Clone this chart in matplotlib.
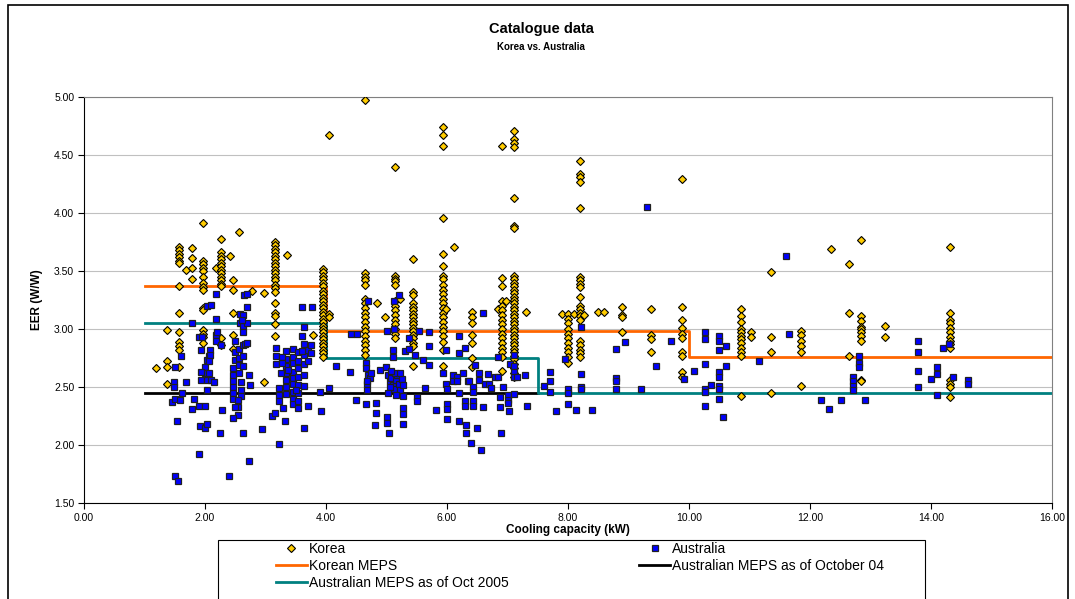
import matplotlib.pyplot as plt
from matplotlib.patches import Rectangle

plt.rcParams['font.family'] = ['Liberation Sans', 'DejaVu Sans']

# Catalogue data: cooling capacity (kW) and EER (W/W)
korea_cap = [
    1.19,
    1.38, 1.38, 1.38, 1.38,
    1.57, 1.57, 1.57, 1.57, 1.57, 1.57, 1.57, 1.57, 1.57, 1.57, 1.57, 1.57, 1.57,
    1.68,
    1.78, 1.78, 1.78, 1.78,
    1.97, 1.97, 1.97, 1.97, 1.97, 1.97, 1.97, 1.97, 1.97, 1.97, 1.97, 1.97, 1.97, 1.97, 1.97,
    2.18,
    2.26, 2.26, 2.26, 2.26, 2.26, 2.26, 2.26, 2.26, 2.26, 2.26, 2.26, 2.26, 2.26, 2.26,
    2.41,
    2.47, 2.47, 2.47, 2.47, 2.47,
    2.57, 2.77, 2.98, 2.98,
    3.16, 3.16, 3.16, 3.16, 3.16, 3.16, 3.16, 3.16, 3.16, 3.16, 3.16, 3.16, 3.16, 3.16, 3.16,
    3.16, 3.16, 3.16, 3.16, 3.16,
    3.36, 3.78,
    3.95, 3.95, 3.95, 3.95, 3.95, 3.95, 3.95, 3.95, 3.95, 3.95, 3.95, 3.95, 3.95, 3.95, 3.95,
    3.95, 3.95, 3.95, 3.95, 3.95, 3.95, 3.95, 3.95, 3.95, 3.95, 3.95,
    4.05, 4.05, 4.05,
    4.64, 4.64, 4.64, 4.64, 4.64, 4.64, 4.64, 4.64, 4.64, 4.64, 4.64, 4.64, 4.64, 4.64, 4.64,
    4.64, 4.64, 4.64,
    4.84, 4.98,
    5.14, 5.14, 5.14, 5.14, 5.14, 5.14, 5.14, 5.14, 5.14, 5.14, 5.14, 5.14, 5.14, 5.14,
    5.22,
    5.43, 5.43, 5.43, 5.43, 5.43, 5.43, 5.43, 5.43, 5.43, 5.43, 5.43, 5.43, 5.43, 5.43, 5.43,
    5.43, 5.43,
    5.93, 5.93, 5.93, 5.93, 5.93, 5.93, 5.93, 5.93, 5.93, 5.93, 5.93, 5.93, 5.93, 5.93, 5.93,
    5.93, 5.93, 5.93, 5.93, 5.93, 5.93, 5.93, 5.93,
    5.98, 6.12,
    6.42, 6.42, 6.42, 6.42, 6.42, 6.42, 6.42,
    6.85,
    6.91, 6.91, 6.91, 6.91, 6.91, 6.91, 6.91, 6.91, 6.91, 6.91, 6.91, 6.91, 6.91, 6.91, 6.91,
    6.91, 6.91,
    6.98,
    7.11, 7.11, 7.11, 7.11, 7.11, 7.11, 7.11, 7.11, 7.11, 7.11, 7.11, 7.11, 7.11, 7.11, 7.11,
    7.11, 7.11, 7.11, 7.11, 7.11, 7.11, 7.11, 7.11, 7.11, 7.11, 7.11, 7.11, 7.11, 7.11, 7.11,
    7.11, 7.11, 7.11, 7.11, 7.11, 7.11,
    7.30, 7.90,
    8.00, 8.00, 8.00, 8.00, 8.00, 8.00, 8.00, 8.00, 8.00, 8.00, 8.00,
    8.10,
    8.20, 8.20, 8.20, 8.20, 8.20, 8.20, 8.20, 8.20, 8.20, 8.20, 8.20, 8.20, 8.20, 8.20, 8.20,
    8.20, 8.20, 8.20, 8.20, 8.20,
    8.26, 8.49, 8.60,
    8.89, 8.89, 8.89, 8.89,
    9.38, 9.38, 9.38, 9.38,
    9.88, 9.88, 9.88, 9.88, 9.88, 9.88, 9.88, 9.88, 9.88, 9.88,
    10.86, 10.86, 10.86, 10.86, 10.86, 10.86, 10.86, 10.86, 10.86, 10.86, 10.86, 10.86,
    11.02, 11.02,
    11.36, 11.36, 11.36, 11.36,
    11.85, 11.85, 11.85, 11.85, 11.85, 11.85,
    12.34,
    12.64, 12.64, 12.64,
    12.84, 12.84, 12.84, 12.84, 12.84, 12.84, 12.84, 12.84, 12.84, 12.84,
    13.24, 13.24,
    14.32, 14.32, 14.32, 14.32, 14.32, 14.32, 14.32, 14.32, 14.32, 14.32, 14.32, 14.32, 14.32,
    14.32,
]
korea_eer = [
    2.66,
    2.99, 2.72, 2.67, 2.53,
    3.71, 3.68, 3.65, 3.62, 3.59, 3.57, 3.37, 3.14, 2.97, 2.89, 2.85, 2.82, 2.67,
    3.51,
    3.70, 3.61, 3.53, 3.43,
    3.91, 3.59, 3.56, 3.53, 3.50, 3.45, 3.40, 3.36, 3.34, 3.18, 3.16, 2.99, 2.96, 2.93, 2.88,
    3.53,
    3.78, 3.66, 3.63, 3.60, 3.57, 3.54, 3.51, 3.48, 3.45, 3.42, 3.39, 3.37, 2.92, 2.86,
    3.63,
    3.42, 3.34, 3.14, 2.95, 2.83,
    3.84, 3.33, 3.31, 2.54,
    3.75, 3.72, 3.69, 3.66, 3.63, 3.60, 3.57, 3.54, 3.51, 3.48, 3.45, 3.42, 3.38, 3.35, 3.32,
    3.22, 3.14, 3.11, 3.04, 2.94,
    3.64, 2.95,
    3.52, 3.49, 3.46, 3.43, 3.40, 3.37, 3.33, 3.30, 3.27, 3.24, 3.21, 3.18, 3.15, 3.12, 3.09,
    3.06, 3.03, 3.00, 2.97, 2.94, 2.91, 2.88, 2.85, 2.82, 2.79, 2.76,
    4.67, 3.13, 3.10,
    4.97, 3.48, 3.45, 3.42, 3.38, 3.26, 3.22, 3.18, 3.14, 3.10, 3.06, 3.02, 2.98, 2.94, 2.90,
    2.86, 2.82, 2.78,
    3.22, 3.10,
    4.40, 3.46, 3.43, 3.41, 3.38, 3.24, 3.20, 3.16, 3.12, 3.08, 3.04, 3.00, 2.96, 2.92,
    3.26,
    3.60, 3.32, 3.29, 3.22, 3.19, 3.16, 3.13, 3.10, 3.07, 3.04, 3.01, 2.98, 2.95, 2.92, 2.88,
    2.85, 2.68,
    4.74, 4.67, 4.58, 3.96, 3.65, 3.54, 3.46, 3.43, 3.38, 3.34, 3.30, 3.26, 3.22, 3.18, 3.14,
    3.10, 3.06, 3.02, 2.98, 2.94, 2.89, 2.82, 2.68,
    3.17, 3.71,
    3.15, 3.10, 3.05, 2.95, 2.88, 2.75, 2.67,
    3.17,
    4.58, 3.44, 3.37, 3.24, 3.20, 3.16, 3.12, 3.08, 3.04, 3.00, 2.96, 2.92, 2.88, 2.84, 2.80,
    2.76, 2.64,
    3.24,
    4.71, 4.64, 4.60, 4.57, 4.13, 3.89, 3.87, 3.46, 3.43, 3.40, 3.37, 3.34, 3.31, 3.28, 3.25,
    3.22, 3.19, 3.16, 3.13, 3.10, 3.07, 3.04, 3.01, 2.98, 2.95, 2.92, 2.89, 2.86, 2.83, 2.80,
    2.77, 2.74, 2.70, 2.66, 2.62, 2.59,
    3.15, 3.13,
    3.13, 3.09, 3.05, 3.00, 2.96, 2.92, 2.88, 2.84, 2.80, 2.76, 2.71,
    3.13,
    4.45, 4.34, 4.31, 4.27, 4.04, 3.45, 3.42, 3.39, 3.36, 3.28, 3.20, 3.17, 3.14, 3.11, 3.08,
    2.90, 2.86, 2.82, 2.79, 2.76,
    3.12, 3.15, 3.15,
    3.19, 3.12, 3.10, 2.97,
    3.17, 2.95, 2.91, 2.80,
    4.29, 3.19, 3.08, 3.01, 2.96, 2.92, 2.80, 2.77, 2.63, 2.59,
    3.17, 3.11, 3.06, 3.00, 2.97, 2.94, 2.91, 2.88, 2.84, 2.80, 2.77, 2.42,
    2.97, 2.93,
    3.49, 2.93, 2.80, 2.45,
    2.98, 2.95, 2.90, 2.85, 2.80, 2.51,
    3.69,
    3.56, 3.14, 2.77,
    3.77, 3.11, 3.07, 3.02, 3.00, 2.97, 2.94, 2.90, 2.56, 2.55,
    3.03, 2.93,
    3.71, 3.14, 3.08, 3.05, 3.01, 2.97, 2.93, 2.90, 2.87, 2.84, 2.56, 2.53, 2.50,
    2.41,
]

australia_cap = [
    1.45, 1.48, 1.49, 1.51, 1.58, 1.54, 1.50, 1.56, 1.61, 1.50, 1.69, 1.62,
    1.78, 1.82, 1.78, 1.90, 1.95, 2.19, 2.19, 1.94, 2.03, 2.07, 2.00, 2.00, 1.94, 1.94,
    2.03, 2.03, 2.06, 2.10, 2.15, 1.90, 2.00, 2.28, 1.92, 2.00, 2.04, 1.90, 2.25, 2.40,
    2.19, 2.03, 2.10, 2.18, 2.20, 2.26, 2.09, 2.09, 2.06,
    2.50, 2.50, 2.50, 2.46, 2.46, 2.46, 2.46, 2.46, 2.46, 2.57, 2.57, 2.57, 2.57,
    2.63, 2.63, 2.63, 2.66, 2.70, 2.60, 2.60, 2.60, 2.55, 2.55, 2.55, 2.46, 2.50,
    2.63, 2.73, 2.58, 2.58, 2.63, 2.63, 2.63, 2.65, 2.70, 2.70, 2.70, 2.61, 2.94,
    2.72, 2.75,
    3.17, 3.17, 3.17, 3.23, 3.23, 3.23, 3.10, 3.16, 3.23, 3.32, 3.29,
    3.34, 3.34, 3.34, 3.34, 3.34, 3.34, 3.34,
    3.45, 3.45, 3.45, 3.45, 3.45, 3.45, 3.45, 3.45, 3.45,
    3.53, 3.53, 3.53, 3.53, 3.53, 3.53, 3.53, 3.53,
    3.64, 3.64, 3.64, 3.64, 3.64, 3.71, 3.71, 3.64, 3.71, 3.60, 3.77, 3.64,
    3.28, 3.28, 3.25, 3.37, 3.60, 3.50, 3.90, 4.05, 3.92, 3.60, 3.75, 3.75,
    4.17, 4.40, 4.42, 4.51, 4.50, 4.66, 4.70, 4.66, 4.70, 4.72, 4.68, 4.75, 4.66,
    4.83, 4.83, 4.81, 4.68, 4.68, 4.89, 4.99, 5.00,
    5.02, 5.05, 5.08, 5.10, 5.12, 5.15, 5.18, 5.20, 5.22, 5.25, 5.05, 5.14, 5.28,
    5.02, 5.16, 5.08, 5.22,
    5.04, 5.01, 5.01, 5.13, 5.21, 5.13, 5.10, 5.10, 5.28, 5.28, 5.28, 5.28, 5.30,
    5.38, 5.38, 5.47, 5.53, 5.50, 5.50, 5.61, 5.64, 5.70, 5.70, 5.70, 5.81,
    5.94, 5.98, 5.99, 6.00, 6.00, 6.00, 6.00, 6.10, 6.16, 6.10, 6.16, 6.20, 6.20,
    6.20, 6.20, 6.26, 6.30, 6.30, 6.30, 6.31, 6.31, 6.35, 6.37, 6.40, 6.43, 6.43,
    6.43, 6.43, 6.46, 6.50, 6.53, 6.53, 6.56, 6.60, 6.60, 6.62, 6.70, 6.68, 6.72,
    6.79, 6.84, 6.92, 6.88, 6.88, 6.89, 6.84, 7.01, 7.01, 7.01, 7.02, 7.04, 7.10,
    7.10, 7.10, 7.10, 7.10, 7.16, 7.29, 7.33, 7.70, 7.70, 7.70, 7.61, 7.80,
    7.95, 8.21, 8.21, 8.21, 8.21, 8.00, 8.00, 8.00, 8.14, 8.40, 8.79, 8.80, 8.80,
    8.80, 8.95, 9.21, 9.45, 9.70, 9.92, 10.09, 10.26, 10.26, 10.26, 10.26, 10.26,
    10.26, 10.37, 10.50, 10.50, 10.50, 10.50, 10.50, 10.50, 10.50, 10.50, 10.56,
    10.61, 10.61, 11.15, 11.66, 12.19, 12.31, 12.51, 12.71, 12.71, 12.71, 12.71,
    12.81, 12.81, 12.81, 12.91, 13.78, 13.78, 13.78, 13.78, 14.00, 14.10, 14.10,
    14.10, 14.20, 14.30, 14.37, 14.61, 14.61, 9.31, 11.60,
]
australia_eer = [
    2.37, 2.54, 2.50, 2.40, 2.39, 2.21, 1.73, 1.69, 2.77, 2.67, 2.54, 2.45,
    3.05, 2.40, 2.31, 2.93, 2.93, 2.95, 2.90, 2.82, 2.73, 2.77, 2.67, 2.62, 2.63, 2.56,
    2.56, 2.47, 2.62, 2.56, 2.54, 2.34, 2.34, 2.30, 2.16, 2.15, 2.18, 1.92, 2.10, 1.73,
    3.30, 3.20, 3.21, 3.09, 2.97, 2.86, 2.82, 2.78, 2.72,
    2.90, 2.80, 2.73, 2.66, 2.60, 2.55, 2.50, 2.45, 2.40, 2.83, 2.75, 2.69, 2.62,
    2.86, 2.77, 2.68, 2.87, 2.88, 2.54, 2.47, 2.42, 2.39, 2.33, 2.26, 2.23, 2.33,
    2.10, 1.86, 3.13, 3.05, 3.12, 3.03, 2.97, 3.29, 3.30, 3.19, 3.05, 3.08, 2.14,
    2.60, 2.52,
    2.84, 2.77, 2.70, 2.49, 2.43, 2.38, 2.25, 2.28, 2.01, 2.21, 2.32,
    2.81, 2.74, 2.68, 2.62, 2.56, 2.50, 2.44,
    2.83, 2.76, 2.71, 2.63, 2.58, 2.53, 2.46, 2.40, 2.35,
    2.80, 2.72, 2.66, 2.59, 2.52, 2.45, 2.38, 2.32,
    2.87, 2.78, 2.70, 2.60, 2.51, 2.82, 2.72, 2.15, 2.34, 3.19, 3.19, 3.02,
    2.76, 2.71, 2.62, 2.65, 2.81, 2.47, 2.46, 2.49, 2.29, 2.94, 2.86, 2.79,
    2.68, 2.63, 2.96, 2.96, 2.39, 2.71, 3.24, 2.66, 2.60, 2.58, 2.53, 2.62, 2.35,
    2.36, 2.28, 2.17, 2.55, 2.47, 2.65, 2.67, 2.98,
    2.60, 2.55, 2.58, 2.52, 2.48, 2.56, 2.60, 2.53, 2.47, 2.57, 2.50, 2.62, 2.52,
    2.45, 2.43, 2.64, 2.62,
    2.10, 2.24, 2.19, 3.24, 3.29, 3.00, 2.82, 2.76, 2.18, 2.42, 2.32, 2.27, 2.81,
    2.92, 2.83, 2.78, 2.98, 2.41, 2.38, 2.73, 2.49, 2.97, 2.85, 2.69, 2.30,
    2.62, 2.53, 2.82, 2.48, 2.35, 2.31, 2.22, 2.60, 2.59, 2.55, 2.55, 2.94, 2.79,
    2.45, 2.21, 2.62, 2.84, 2.38, 2.34, 2.17, 2.10, 2.55, 2.55, 2.02, 2.50, 2.46,
    2.38, 2.34, 2.69, 2.15, 2.62, 2.56, 1.96, 3.14, 2.33, 2.53, 2.53, 2.61, 2.49,
    2.59, 2.59, 2.50, 2.41, 2.33, 2.10, 2.76, 2.43, 2.39, 2.36, 2.29, 2.70, 2.78,
    2.68, 2.63, 2.59, 2.44, 2.59, 2.60, 2.34, 2.63, 2.55, 2.46, 2.51, 2.29,
    2.74, 3.02, 2.61, 2.50, 2.48, 2.48, 2.45, 2.35, 2.30, 2.30, 2.83, 2.58, 2.55,
    2.48, 2.89, 2.48, 2.68, 2.90, 2.57, 2.64, 2.97, 2.91, 2.70, 2.48, 2.46,
    2.34, 2.52, 2.94, 2.90, 2.82, 2.63, 2.59, 2.51, 2.48, 2.40, 2.24,
    2.85, 2.68, 2.72, 2.96, 2.39, 2.31, 2.39, 2.59, 2.55, 2.51, 2.47,
    2.77, 2.71, 2.67, 2.39, 2.90, 2.80, 2.64, 2.50, 2.57, 2.67, 2.61,
    2.43, 2.84, 2.87, 2.59, 2.56, 2.53, 4.05, 3.63,
]

# MEPS levels, stepping at capacity breakpoints
korean_meps_cap = [1.0, 4.0, 10.0, 16.0]
korean_meps_eer = [3.37, 2.98, 2.76, 2.76]
aus_meps_2004_cap = [1.0, 7.5]
aus_meps_2004_eer = [2.45, 2.45]
aus_meps_2005_cap = [1.0, 4.0, 7.5, 16.0]
aus_meps_2005_eer = [3.05, 2.75, 2.45, 2.45]

W, H = 1075, 599
fig = plt.figure(figsize=(W / 100, H / 100), dpi=100)
ax = fig.add_axes([84 / W, 1 - 503 / H, (1052 - 84) / W, (503 - 97) / H])

ax.plot(korean_meps_cap, korean_meps_eer, drawstyle='steps-post', color='#FF6600',
        lw=2.0, label='Korean MEPS', zorder=2)
ax.plot(aus_meps_2004_cap, aus_meps_2004_eer, drawstyle='steps-post', color='black',
        lw=2.0, label='Australian MEPS as of October 04', zorder=2)
ax.plot(aus_meps_2005_cap, aus_meps_2005_eer, drawstyle='steps-post', color='#008080',
        lw=2.0, label='Australian MEPS as of Oct 2005', zorder=2)
ax.plot(korea_cap, korea_eer, ls='none', marker='D', ms=4, mfc='#FFCC00', mec='black',
        mew=0.8, label='Korea', zorder=3)
ax.plot(australia_cap, australia_eer, ls='none', marker='s', ms=5, mfc='#0000FF',
        mec='#202020', mew=0.9, label='Australia', zorder=4)

ax.set_xlim(0, 16)
ax.set_ylim(1.5, 5.0)
ax.set_xticks([0, 2, 4, 6, 8, 10, 12, 14, 16])
ax.set_yticks([1.5, 2.0, 2.5, 3.0, 3.5, 4.0, 4.5, 5.0])
ax.xaxis.set_major_formatter('{x:.2f}')
ax.yaxis.set_major_formatter('{x:.2f}')
ax.tick_params(labelsize=7.5, direction='out', length=4, width=0.8, pad=3)
ax.grid(axis='y', color='#c0c0c0', lw=0.8)
ax.set_axisbelow(True)
for side in ('top', 'right'):
    ax.spines[side].set_color('#808080')
for side in ('left', 'bottom'):
    ax.spines[side].set_color('black')

ax.set_xlabel('Cooling capacity (kW)', fontsize=8.5, fontweight='bold', labelpad=1)
ax.set_ylabel('EER (W/W)', fontsize=8.5, fontweight='bold', labelpad=8)

fig.text(541 / W, 1 - 29 / H, 'Catalogue data', ha='center', va='center',
         fontsize=10.5, fontweight='bold')
fig.text(541 / W, 1 - 47 / H, 'Korea vs. Australia', ha='center', va='center',
         fontsize=7, fontweight='bold')

# legend box, drawn separately so the entries can sit inset from its left edge
fig.patches.append(Rectangle((218 / W, -0.01), (925 - 218) / W, 1 - 540 / H + 0.01,
                             transform=fig.transFigure, fill=False, ec='black', lw=0.8))

handles, labels = ax.get_legend_handles_labels()
order = [3, 0, 2, 4, 1]
leg = fig.legend([handles[i] for i in order], [labels[i] for i in order], ncol=2,
                 loc='upper left', bbox_to_anchor=(276 / W, 1 - 542 / H),
                 fontsize=10, frameon=False, borderpad=0, borderaxespad=0,
                 labelspacing=0.2, handlelength=2.23, handletextpad=0.15,
                 columnspacing=9.4)

fig.patches.append(Rectangle((8 / W, -0.01), (1068 - 8) / W, 1 - 5 / H + 0.01,
                             transform=fig.transFigure, fill=False, ec='black', lw=1.2))

fig.savefig('out.png', dpi=100)
